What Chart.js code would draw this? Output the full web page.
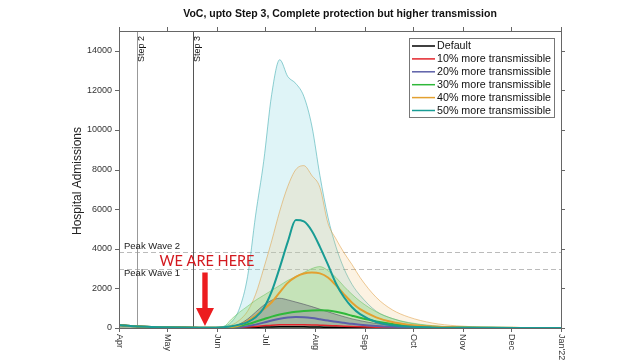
<!DOCTYPE html>
<html><head><meta charset="utf-8">
<script src="https://cdn.jsdelivr.net/npm/chart.js@4/dist/chart.umd.min.js"></script>
<style>html,body{margin:0;padding:0;background:#fff}#wrap{width:640px;height:360px;position:relative}</style>
</head><body><div id="wrap"><canvas id="c" width="640" height="360"></canvas></div>
<script>
// ---- data (x = days since 1 Apr 2021) ----
const days = [0,10,20,30,40,50,55,60,65,70,75,80,85,90,95,100,105,110,115,120,125,130,135,140,145,150,160,170,180,195,210,230,250,275];
const early = [150,90,55,35,20,12,10];
const defaultLine = early.concat([10,12,15,20,28,38,48,56,62,64,62,58,52,46,40,34,29,24,20,14,9,6,3,2,1,1,1]);
const plus10Line  = early.concat([10,14,22,35,55,80,110,140,160,170,170,165,155,140,125,108,92,78,65,44,29,19,10,5,2,1,1]);
const plus20Line  = early.concat([10,15,25,50,95,170,270,380,470,530,550,540,500,440,375,310,260,210,170,105,62,36,16,8,4,2,1]);
const plus30Line  = early.concat([10,18,45,105,195,315,445,575,680,760,820,860,890,900,880,820,730,620,515,335,205,120,55,25,10,5,3]);
const plus40Line  = early.concat([10,25,50,140,350,620,950,1300,1800,2280,2580,2750,2800,2760,2550,2150,1700,1280,950,540,300,170,70,30,12,6,3]);
const plus50Line  = early.concat([15,40,90,170,300,540,1000,1850,3050,4350,5450,5380,4900,4100,3200,2250,1550,1050,700,300,140,70,30,15,8,5,3]);
// uncertainty bands (upper envelope)
const plus20Band  = early.concat([12,25,80,200,450,800,1150,1400,1500,1420,1310,1200,1080,950,820,690,570,460,370,225,135,80,35,15,6,3,2]);
const plus30Band  = early.concat([15,60,450,800,1100,1400,1650,1900,2150,2400,2600,2800,3000,3100,2900,2550,2100,1700,1350,820,480,280,120,50,20,8,4]);
const plus40Band  = early.concat([15,50,150,400,850,1700,3000,4400,5900,7150,8000,8200,7700,7100,5300,4500,3800,3200,2550,1550,920,560,250,110,40,15,8]);
const plus50Band  = early.concat([20,80,300,1000,2600,5700,8400,11800,13550,12700,12350,11700,10200,7700,5600,4100,3000,2200,1650,850,480,260,100,40,15,8,5]);

const seriesNames = ['Default','10% more transmissible','20% more transmissible','30% more transmissible','40% more transmissible','50% more transmissible'];
const monthTicks = [0,30,61,91,122,153,183,214,244,275];
const monthLabels = ['Apr','May','Jun','Jul','Aug','Sep','Oct','Nov','Dec',"Jan'22"];
const yTicks = [0,2000,4000,6000,8000,10000,12000,14000];
const steps = [{day:11,label:'Step 2',color:'#999'},{day:46,label:'Step 3',color:'#555'}];
const peaks = [{value:3850,label:'Peak Wave 2'},{value:3000,label:'Peak Wave 1'}];
const arrow = {day:53.5, top:2800};

const lineColors = ['#000000','#e3242b','#5c5fa8','#2fb83a','#e3a030','#189c94'];
const FONT = '"Liberation Sans", Arial, Helvetica, sans-serif';

function pts(vals){ return days.map((d,i)=>({x:d,y:vals[i]})); }

const lineSets = [defaultLine,plus10Line,plus20Line,plus30Line,plus40Line,plus50Line].map((v,i)=>({
  label: seriesNames[i], data: pts(v), borderColor: lineColors[i], backgroundColor: lineColors[i],
  borderWidth: i<2 ? 1.5 : 2, pointRadius: 0, fill: false, cubicInterpolationMode: 'monotone', isMain: true,
  order: 5-i
}));
const bandSets = [
  {data: pts(plus20Band), borderColor:'rgba(80,80,95,0.75)', backgroundColor:'rgba(95,95,115,0.33)', order:10},
  {data: pts(plus30Band), borderColor:'rgba(90,190,80,0.6)', backgroundColor:'rgba(120,210,90,0.28)', order:11},
  {data: pts(plus40Band), borderColor:'rgba(225,160,70,0.7)', backgroundColor:'rgba(240,190,110,0.2)', order:12},
  {data: pts(plus50Band), borderColor:'rgba(60,170,175,0.7)', backgroundColor:'rgba(150,220,230,0.3)', order:13}
].map(d=>Object.assign(d,{label:'band', borderWidth:0.8, pointRadius:0, fill:'origin', cubicInterpolationMode:'monotone'}));

const decor = {
  id:'decor',
  beforeDatasetsDraw(chart){
    const c = chart.ctx, xs = chart.scales.x, ys = chart.scales.y, a = chart.chartArea;
    c.save();
    c.setLineDash([5,3]); c.strokeStyle = '#bbb'; c.lineWidth = 1;
    peaks.forEach(p=>{ const y = Math.round(ys.getPixelForValue(p.value))+0.5;
      c.beginPath(); c.moveTo(a.left,y); c.lineTo(a.right,y); c.stroke(); });
    c.setLineDash([]);
    steps.forEach(s=>{ const x = Math.round(xs.getPixelForValue(s.day))+0.5;
      c.strokeStyle = s.color; c.beginPath(); c.moveTo(x,a.top); c.lineTo(x,a.bottom); c.stroke(); });
    c.restore();
  },
  afterDatasetsDraw(chart){
    const c = chart.ctx, xs = chart.scales.x, ys = chart.scales.y, a = chart.chartArea;
    c.save();
    c.strokeStyle = '#666'; c.lineWidth = 1;
    c.strokeRect(Math.round(a.left)+0.5, Math.round(a.top)+0.5, Math.round(a.right-a.left), Math.round(a.bottom-a.top));
    c.beginPath();
    monthTicks.forEach(d=>{ const x = Math.round(xs.getPixelForValue(d))+0.5;
      c.moveTo(x,a.bottom); c.lineTo(x,a.bottom+4); c.moveTo(x,a.top); c.lineTo(x,a.top-4); });
    yTicks.forEach(v=>{ const y = Math.round(ys.getPixelForValue(v))+0.5;
      c.moveTo(a.left,y); c.lineTo(a.left-4,y); c.moveTo(a.right,y); c.lineTo(a.right+4,y); });
    c.stroke();
    c.fillStyle = '#333'; c.font = '9px '+FONT;
    c.textAlign = 'right'; c.textBaseline = 'middle';
    yTicks.forEach(v=>{ c.fillText(String(v), a.left-7, ys.getPixelForValue(v)); });
    monthTicks.forEach((d,i)=>{ const x = xs.getPixelForValue(d);
      c.save(); c.translate(x, a.bottom+6); c.rotate(Math.PI/2);
      c.textAlign='left'; c.textBaseline='middle'; c.fillText(monthLabels[i],0,0); c.restore(); });
    c.save(); c.translate(78,181); c.rotate(-Math.PI/2); c.font='12px '+FONT; c.fillStyle='#222';
    c.textAlign='center'; c.textBaseline='middle'; c.fillText('Hospital Admissions',0,0); c.restore();
    c.font='bold 10.5px '+FONT; c.fillStyle='#111'; c.textAlign='center'; c.textBaseline='middle';
    c.fillText('VoC, upto Step 3, Complete protection but higher transmission', 340, 14);
    c.font='9px '+FONT; c.fillStyle='#111';
    steps.forEach(s=>{ const x = xs.getPixelForValue(s.day);
      c.save(); c.translate(x+5, a.top+5); c.rotate(-Math.PI/2);
      c.textAlign='right'; c.textBaseline='middle'; c.fillText(s.label,0,0); c.restore(); });
    c.font='9.5px '+FONT; c.fillStyle='#222'; c.textAlign='left'; c.textBaseline='middle';
    peaks.forEach(p=>{ const y = ys.getPixelForValue(p.value);
      c.fillText(p.label, a.left+5, p.label.endsWith('2') ? y-5 : y+5); });
    const ax = xs.getPixelForValue(arrow.day), atop = ys.getPixelForValue(arrow.top), atip = ys.getPixelForValue(0)-2;
    c.fillStyle = '#d3191f'; c.font = '14.5px Lato, '+FONT; c.textAlign='center'; c.textBaseline='middle';
    c.fillText('WE ARE HERE', ax+2, atop-11);
    c.fillStyle = '#ec1c1f';
    c.beginPath();
    c.moveTo(ax-2.7, atop); c.lineTo(ax+2.7, atop); c.lineTo(ax+2.7, atip-18); c.lineTo(ax+9, atip-18);
    c.lineTo(ax, atip); c.lineTo(ax-9, atip-18); c.lineTo(ax-2.7, atip-18); c.closePath(); c.fill();
    const lx=409.5, ly=38.5, lw=145, lh=79;
    c.fillStyle='#fff'; c.fillRect(lx,ly,lw,lh); c.strokeStyle='#777'; c.lineWidth=1; c.strokeRect(lx,ly,lw,lh);
    c.font='10.7px '+FONT; c.textAlign='left'; c.textBaseline='middle';
    chart.data.datasets.filter(d=>d.isMain).forEach((d,i)=>{
      const y = 46 + i*12.9;
      c.strokeStyle = d.borderColor; c.lineWidth = 1.5;
      c.beginPath(); c.moveTo(412,y); c.lineTo(435,y); c.stroke();
      c.fillStyle='#111'; c.fillText(d.label, 437, y+0.5);
    });
    c.restore();
  }
};

new Chart(document.getElementById('c'), {
  type:'line',
  data:{ datasets: lineSets.concat(bandSets) },
  options:{
    responsive:false, animation:false, devicePixelRatio:1,
    layout:{ padding:{left:119, right:79, top:31, bottom:32} },
    plugins:{ legend:{display:false}, tooltip:{enabled:false} },
    scales:{
      x:{ type:'linear', min:0, max:275, display:false },
      y:{ min:0, max:15000, display:false }
    }
  },
  plugins:[decor]
});
</script></body></html>
